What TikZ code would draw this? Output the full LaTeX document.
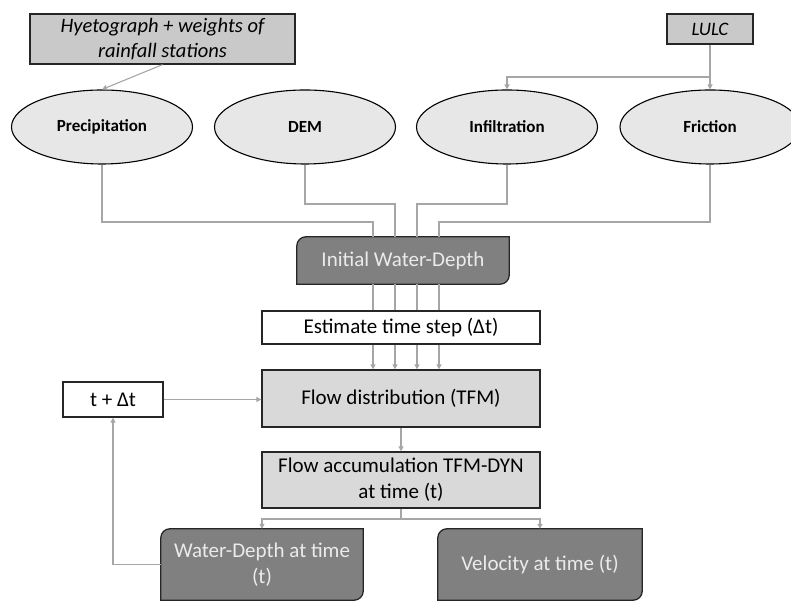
\documentclass[tikz,border=0pt]{standalone}
\usepackage{fontspec}
\setmainfont{Carlito}
\usetikzlibrary{arrows.meta, positioning, shapes.geometric, calc, backgrounds}

\definecolor{inputgrey}{RGB}{201,201,201}
\definecolor{layergrey}{RGB}{231,231,231}
\definecolor{stepgrey}{RGB}{217,217,217}
\definecolor{darkgrey}{RGB}{128,128,128}
\definecolor{linegrey}{RGB}{166,166,166}

% dark box with two rounded corners (top left, bottom right)
\newcommand{\snipfill}[1]{%
  \filldraw[draw=black!85, line width=1.3pt, fill=darkgrey]
    (#1.south west) -- ([yshift=-9pt]#1.north west)
    arc[start angle=180, end angle=90, radius=9pt] -- (#1.north east)
    -- ([yshift=9pt]#1.south east)
    arc[start angle=0, end angle=-90, radius=9pt] -- cycle;}

\begin{document}
\begin{tikzpicture}[x=1pt, y=1pt,
  inbox/.style={draw=black!85, line width=1.3pt, fill=inputgrey, inner sep=0pt, align=center, font=\fontsize{20.5}{25}\selectfont\itshape},
  layer/.style={ellipse, draw=black, line width=1.1pt, fill=layergrey, minimum width=181pt, minimum height=74pt, inner sep=0pt, font=\fontsize{17}{20}\selectfont\bfseries},
  stepbox/.style={draw=black!85, line width=1.3pt, minimum width=278pt, inner sep=0pt, align=center, font=\fontsize{21}{26}\selectfont},
  outbox/.style={inner sep=0pt, align=center, text=white!92!black, font=\fontsize{21}{26}\selectfont},
  link/.style={draw=linegrey, line width=1.1pt},
  arr/.style={link, -{Triangle[length=5pt,width=5pt]}}
]
\useasboundingbox (0,0) rectangle (791,601);

% inputs
\node[inbox, minimum width=265pt, minimum height=50pt] (hyeto) at (162.5,562) {Hyetograph + weights of\\rainfall stations};
\node[inbox, minimum width=86pt, minimum height=30pt, font=\fontsize{19}{22}\selectfont\itshape] (lulc) at (710,572) {LULC};

% raster layers
\node[layer] (prec) at (102,474) {Precipitation};
\node[layer] (dem) at (305,474) {DEM};
\node[layer] (infil) at (507,474) {Infiltration};
\node[layer, minimum width=180pt] (fric) at (710,474) {Friction};

\draw[arr] (hyeto.south) -- (prec.north);
\coordinate (lsplit) at (lulc.south |- 0,524);
\draw[arr] (lulc.south) -- (fric.north);
\draw[arr] (lsplit) -| (infil.north);

% model chain
\node[outbox, minimum width=212pt, minimum height=47pt] (iwd) at (403,340.5) {Initial Water-Depth};
\node[stepbox, fill=white, minimum height=33pt] (est) at (401,273.5) {Estimate time step (Δt)};
\node[stepbox, fill=stepgrey, minimum height=57pt] (flow) at (401,202.5) {Flow distribution (TFM)};
\node[stepbox, fill=white, minimum width=100pt, minimum height=35pt] (tdt) at (113,201.5) {t + Δt};
\node[stepbox, fill=stepgrey, minimum height=56pt] (accum) at (401,121) {Flow accumulation TFM-DYN\\at time (t)};
\node[outbox, minimum width=202pt, minimum height=71pt] (wd) at (262,36.5) {Water-Depth at time\\(t)};
\node[outbox, minimum width=204pt, minimum height=71pt] (vel) at (540,36.5) {Velocity at time (t)};

\begin{scope}[on background layer]
  \snipfill{iwd}
  \snipfill{wd}
  \snipfill{vel}
\end{scope}

\draw[link] (prec.south) -- (prec.south |- 0,379) -| ([xshift=-30pt]iwd.north);
\draw[link] (dem.south) -- (dem.south |- 0,397) -| ([xshift=-8pt]iwd.north);
\draw[link] (infil.south) -- (infil.south |- 0,397) -| ([xshift=14pt]iwd.north);
\draw[link] (fric.south) -- (fric.south |- 0,379) -| ([xshift=36pt]iwd.north);

\foreach \dx in {-30,-8,14,36} {
  \draw[link] ([xshift=\dx pt]iwd.south) -- ([xshift=\dx pt]iwd.south |- est.north);
  \draw[arr] ([xshift=\dx pt]iwd.south |- est.south) -- ([xshift=\dx pt]iwd.south |- flow.north);
}

\draw[arr] (tdt.east) -- (tdt.east -| flow.west);
\draw[arr] (flow.south) -- (accum.north);
\coordinate (osplit) at (accum.south |- 0,82);
\draw[link] (accum.south) -- (osplit);
\draw[arr] (osplit) -| (wd.north);
\draw[arr] (osplit) -| (vel.north);
\draw[arr] (wd.west) -| (tdt.south);
\end{tikzpicture}
\end{document}
